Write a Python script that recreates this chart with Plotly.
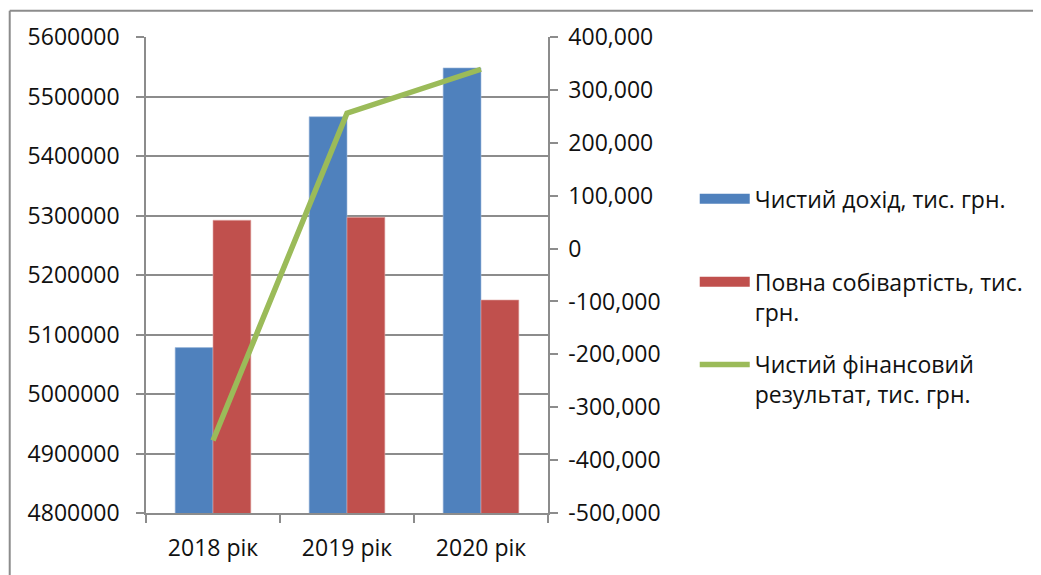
import plotly.graph_objects as go

categories = ["2018 рік", "2019 рік", "2020 рік"]
net_income = [5078000, 5466000, 5548000]
full_cost = [5292000, 5297000, 5158000]
net_result = [-363000, 256000, 339000]

left_ticks = [4800000, 4900000, 5000000, 5100000, 5200000, 5300000, 5400000, 5500000, 5600000]
right_tick_vals = [-500000, -400000, -300000, -200000, -100000, 0, 100000, 200000, 300000, 400000]
right_tick_text = ["-500,000", "-400,000", "-300,000", "-200,000", "-100,000", "0",
                   "100,000", "200,000", "300,000", "400,000"]

names = ["Чистий дохід, тис. грн.<br> ",
         "Повна собівартість, тис.<br>грн.",
         "Чистий фінансовий<br>результат, тис. грн."]

FONT = "Open Sans"
FS = 23
GRID = "#8c8c8c"
BLUE, RED, GREEN = "#4F81BD", "#C0504D", "#9BBB59"

fig = go.Figure()
fig.add_trace(go.Bar(x=categories, y=net_income, name=names[0], marker_color=BLUE,
                     marker_line=dict(color="#9db8dc", width=0.6), showlegend=False,
                     legendgroup="a"))
fig.add_trace(go.Bar(x=categories, y=full_cost, name=names[1], marker_color=RED,
                     marker_line=dict(color="#e0a9a7", width=0.6), showlegend=False,
                     legendgroup="b"))
fig.add_trace(go.Scatter(x=categories, y=net_result, name=names[2], yaxis="y2",
                         mode="lines", line=dict(color=GREEN, width=5.5), legendgroup="c"))
# legend swatches (wide rectangles as in the reference)
fig.add_trace(go.Scatter(x=[None], y=[None], name=names[0], mode="lines",
                         line=dict(color=BLUE, width=13), legendgroup="a", legendrank=1))
fig.add_trace(go.Scatter(x=[None], y=[None], name=names[1], mode="lines",
                         line=dict(color=RED, width=13), legendgroup="b", legendrank=2))
fig.data[2].legendrank = 3

fig.update_layout(
    width=1033, height=567,
    margin=dict(l=138, r=493, t=28, b=61),
    paper_bgcolor="white", plot_bgcolor="white",
    font=dict(family=FONT, size=FS, color="#111111"),
    barmode="group", bargap=0.435, bargroupgap=0,
    showlegend=True,
    legend=dict(x=1.365, y=0.705, xanchor="left", yanchor="top",
                valign="top", tracegroupgap=20, itemwidth=50,
                font=dict(family=FONT, size=FS, color="#111111"),
                bgcolor="rgba(0,0,0,0)"),
    xaxis=dict(type="category", showgrid=False, showline=True, linecolor=GRID, linewidth=1.5,
               ticks="outside", tickson="boundaries", ticklen=8, tickcolor=GRID, tickwidth=1.5,
               ticklabelstandoff=14, tickfont=dict(size=FS)),
    yaxis=dict(range=[4800000, 5600000], tickvals=left_ticks, tickformat="d",
               showgrid=True, gridcolor=GRID, gridwidth=1.5,
               showline=True, linecolor=GRID, linewidth=1.5,
               ticks="outside", ticklen=8, tickcolor=GRID, tickwidth=1.5,
               ticklabelstandoff=12, zeroline=False, tickfont=dict(size=FS)),
    yaxis2=dict(range=[-500000, 400000], overlaying="y", side="right",
                tickvals=right_tick_vals, ticktext=right_tick_text,
                showgrid=False, zeroline=False,
                showline=True, linecolor=GRID, linewidth=1.5,
                ticks="outside", ticklen=8, tickcolor=GRID, tickwidth=1.5,
                ticklabelstandoff=6, tickfont=dict(size=FS)),
    shapes=[
        dict(type="line", xref="paper", yref="paper", x0=-0.339, x1=-0.339, y0=-0.2, y1=1.055,
             line=dict(color=GRID, width=2), layer="below"),
        dict(type="line", xref="paper", yref="paper", x0=-0.339, x1=2.25, y0=1.055, y1=1.055,
             line=dict(color=GRID, width=2), layer="below"),
    ],
)

fig.write_html("out.html")
